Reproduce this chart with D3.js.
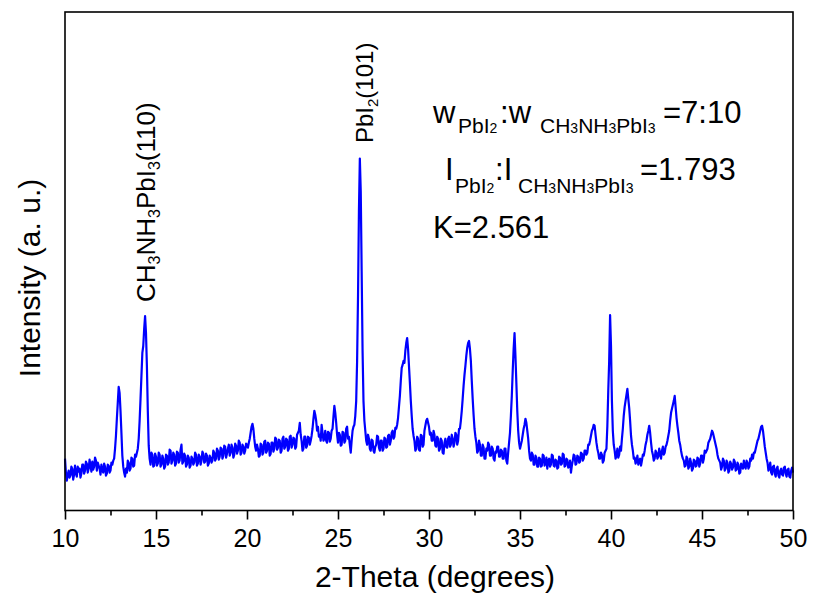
<!DOCTYPE html>
<html>
<head>
<meta charset="utf-8">
<script src="https://cdn.jsdelivr.net/npm/d3@7"></script>
<style>
  html, body { margin: 0; padding: 0; background: #fff; }
  svg { display: block; font-family: Arial, "Liberation Sans", sans-serif; }
</style>
</head>
<body>
<svg id="chart" width="813" height="597"></svg>
<script>
// XRD pattern, 2-theta scan from 10 to 50 degrees in 0.05 degree steps (one row per degree)
const scanStart = 10;
const scanStep = 0.05;
const intensity = [
  52, 38, 30, 36, 40, 33, 35, 44, 42, 31, 36, 45, 37, 34, 44, 39, 42, 33, 37, 46,
  46, 37, 40, 49, 47, 38, 42, 51, 45, 39, 49, 41, 44, 53, 50, 40, 48, 45, 42, 36,
  46, 40, 38, 47, 44, 35, 37, 46, 45, 38, 40, 48, 46, 50, 52, 62, 75, 92, 108, 124,
  118, 100, 78, 55, 44, 38, 34, 42, 38, 50, 48, 40, 42, 53, 52, 44, 45, 56, 54, 58,
  62, 72, 90, 112, 135, 158, 165, 182, 195, 178, 145, 100, 65, 52, 46, 58, 56, 44, 45, 57,
  54, 45, 47, 58, 56, 44, 46, 55, 52, 42, 44, 56, 55, 46, 48, 61, 60, 47, 50, 58,
  56, 45, 47, 59, 58, 48, 50, 61, 66, 47, 49, 57, 55, 44, 46, 55, 53, 43, 45, 54,
  52, 46, 48, 58, 56, 45, 47, 56, 54, 46, 50, 59, 57, 48, 49, 57, 55, 45, 47, 55,
  53, 48, 50, 60, 58, 50, 52, 62, 60, 51, 54, 63, 62, 52, 55, 65, 64, 53, 57, 62,
  66, 55, 58, 66, 63, 53, 56, 67, 65, 57, 60, 70, 68, 56, 58, 66, 64, 57, 60, 67,
  66, 63, 68, 72, 78, 84, 87, 82, 72, 64, 60, 66, 62, 54, 55, 67, 66, 56, 58, 69,
  70, 58, 60, 68, 67, 55, 57, 68, 68, 59, 62, 73, 72, 61, 63, 71, 70, 58, 60, 72,
  74, 62, 64, 72, 71, 60, 62, 74, 75, 63, 66, 73, 72, 62, 64, 76, 78, 80, 88, 76,
  70, 60, 62, 74, 74, 63, 65, 74, 73, 66, 70, 75, 82, 92, 100, 96, 90, 80, 84, 74,
  76, 70, 86, 78, 70, 72, 80, 70, 68, 79, 78, 69, 72, 80, 82, 94, 105, 98, 88, 76,
  68, 78, 76, 65, 66, 79, 78, 68, 70, 82, 84, 72, 74, 66, 58, 70, 80, 84, 86, 95,
  110, 150, 215, 300, 353, 320, 240, 160, 110, 90, 80, 70, 66, 76, 72, 62, 60, 71, 70, 60,
  58, 64, 66, 75, 74, 63, 60, 70, 70, 60, 62, 73, 72, 63, 64, 75, 76, 66, 70, 78,
  80, 72, 74, 83, 82, 86, 93, 104, 115, 130, 143, 146, 150, 148, 160, 168, 173, 162, 145, 128,
  110, 95, 82, 75, 70, 60, 62, 74, 72, 61, 60, 76, 75, 64, 66, 80, 85, 90, 92, 88,
  84, 76, 78, 70, 70, 80, 76, 65, 64, 74, 72, 60, 62, 72, 70, 58, 57, 68, 72, 64,
  63, 72, 74, 64, 66, 76, 72, 64, 68, 78, 76, 66, 70, 82, 82, 90, 100, 112, 125, 136,
  145, 155, 163, 168, 170, 162, 150, 130, 112, 96, 82, 74, 68, 58, 60, 70, 66, 55, 55, 66,
  63, 52, 52, 62, 60, 68, 66, 55, 55, 64, 62, 52, 50, 59, 58, 64, 64, 54, 54, 61,
  60, 52, 52, 62, 62, 50, 47, 58, 68, 78, 95, 115, 140, 162, 178, 155, 128, 100, 80, 68,
  62, 66, 70, 76, 82, 86, 92, 88, 80, 72, 60, 52, 50, 58, 56, 46, 46, 55, 53, 44,
  44, 53, 52, 44, 45, 56, 55, 45, 47, 53, 42, 50, 52, 44, 46, 56, 55, 45, 44, 51,
  50, 42, 43, 54, 53, 46, 47, 57, 56, 44, 45, 52, 51, 43, 44, 50, 38, 45, 50, 56,
  55, 46, 47, 55, 54, 48, 49, 58, 57, 50, 52, 60, 60, 56, 58, 66, 66, 70, 75, 80,
  82, 86, 85, 76, 68, 62, 58, 52, 52, 58, 56, 48, 50, 58, 60, 62, 85, 120, 150, 196,
  165, 110, 80, 66, 60, 52, 55, 62, 53, 56, 64, 60, 72, 82, 95, 104, 110, 116, 122, 112,
  103, 90, 75, 66, 60, 52, 53, 47, 49, 55, 46, 50, 52, 45, 50, 56, 55, 60, 66, 70,
  76, 80, 85, 78, 68, 60, 56, 50, 52, 60, 58, 52, 54, 62, 57, 52, 60, 64, 56, 58,
  64, 66, 70, 75, 80, 90, 98, 102, 106, 110, 115, 104, 93, 85, 78, 70, 66, 60, 55, 52,
  50, 44, 45, 54, 52, 42, 44, 52, 48, 40, 42, 51, 50, 44, 45, 53, 52, 44, 47, 55,
  55, 48, 52, 60, 58, 60, 62, 68, 70, 72, 76, 80, 78, 74, 70, 66, 62, 56, 52, 50,
  48, 41, 44, 52, 50, 40, 42, 50, 48, 38, 40, 49, 47, 41, 43, 51, 49, 40, 41, 48,
  46, 37, 38, 47, 45, 42, 50, 44, 42, 50, 48, 42, 44, 52, 50, 56, 52, 58, 58, 62,
  66, 70, 72, 76, 80, 84, 85, 80, 72, 64, 58, 52, 48, 40, 42, 48, 38, 36, 44, 45,
  37, 34, 42, 44, 35, 33, 40, 42, 36, 35, 43, 44, 37, 34, 41, 42, 34, 33, 40, 43,
  38
];
const majorTicks = [10, 15, 20, 25, 30, 35, 40, 45, 50];
const minorTicks = [12.5, 17.5, 22.5, 27.5, 32.5, 37.5, 42.5, 47.5];
const xDomain = [10, 50];
const yDomain = [0, 500];

const points = intensity.map((v, i) => ({ angle: scanStart + i * scanStep, value: v }));

const svg = d3.select("#chart");
const plot = { left: 65, right: 793, top: 12, bottom: 510.5 };

const x = d3.scaleLinear().domain(xDomain).range([plot.left, plot.right]);
const y = d3.scaleLinear().domain(yDomain).range([plot.bottom, plot.top]);

// diffraction trace
const line = d3.line().x(d => x(d.angle)).y(d => y(d.value));
svg.append("path")
  .datum(points)
  .attr("d", line)
  .attr("fill", "none")
  .attr("stroke", "#0000ff")
  .attr("stroke-width", 2.2)
  .attr("stroke-linejoin", "round");

// frame
svg.append("rect")
  .attr("x", plot.left).attr("y", plot.top)
  .attr("width", plot.right - plot.left).attr("height", plot.bottom - plot.top)
  .attr("fill", "none").attr("stroke", "#000").attr("stroke-width", 1.6);

// bottom axis: major ticks with labels, minor ticks without
const major = svg.append("g")
  .attr("transform", `translate(0,${plot.bottom})`)
  .call(d3.axisBottom(x).tickValues(majorTicks).tickSize(9).tickPadding(9.5).tickFormat(d3.format("d")));
major.select(".domain").remove();
major.selectAll("line").attr("stroke", "#000").attr("stroke-width", 1.6);
major.selectAll("text").attr("font-size", 25).attr("fill", "#000")
  .attr("font-family", "Arial, 'Liberation Sans', sans-serif");

const minor = svg.append("g")
  .attr("transform", `translate(0,${plot.bottom})`)
  .call(d3.axisBottom(x).tickValues(minorTicks).tickSize(5).tickFormat(""));
minor.select(".domain").remove();
minor.selectAll("line").attr("stroke", "#000").attr("stroke-width", 1.6);

// axis titles
svg.append("text")
  .attr("x", 435).attr("y", 587)
  .attr("text-anchor", "middle")
  .attr("font-size", 30)
  .text("2-Theta (degrees)");

svg.append("text")
  .attr("transform", "translate(40,278) rotate(-90)")
  .attr("text-anchor", "middle")
  .attr("font-size", 30)
  .text("Intensity (a. u.)");

// helper: text made of runs with their own size and baseline shift
function runs(sel, parts) {
  parts.forEach(p => {
    const t = sel.append("tspan").attr("font-size", p.size).text(p.t);
    if (p.x !== undefined) t.attr("x", p.x);
    if (p.y !== undefined) t.attr("y", p.y);
    if (p.dy !== undefined) t.attr("dy", p.dy);
  });
}

// peak labels (vertical)
const peak1 = svg.append("text").attr("transform", "translate(155,302) rotate(-90)");
runs(peak1, [
  { t: "CH", size: 26 }, { t: "3", size: 16, dy: 5 },
  { t: "NH", size: 26, dy: -5 }, { t: "3", size: 16, dy: 5 },
  { t: "PbI", size: 26, dy: -5 }, { t: "3", size: 16, dy: 5 },
  { t: "(110)", size: 26, dy: -5 }
]);

const peak2 = svg.append("text").attr("transform", "translate(373,143) rotate(-90)");
runs(peak2, [
  { t: "PbI", size: 24 }, { t: "2", size: 15, dy: 5 },
  { t: "(101)", size: 24, dy: -5 }
]);

// ratio annotations
const big = 31, sub = 21, sub2 = 14;
const l1 = svg.append("text");
runs(l1, [
  { t: "w", size: big, x: 433, y: 123 },
  { t: "PbI", size: sub, x: 458, y: 133 }, { t: "2", size: sub2, y: 133 },
  { t: ":", size: big, x: 500, y: 123 }, { t: "w", size: big, y: 123 },
  { t: "CH", size: sub, x: 540, y: 133 }, { t: "3", size: sub2, y: 133 },
  { t: "NH", size: sub, y: 133 }, { t: "3", size: sub2, y: 133 },
  { t: "PbI", size: sub, y: 133 }, { t: "3", size: sub2, y: 133 },
  { t: "=7:10", size: big, x: 663, y: 123 }
]);

const l2 = svg.append("text");
runs(l2, [
  { t: "I", size: big, x: 445, y: 180 },
  { t: "PbI", size: sub, x: 455, y: 193 }, { t: "2", size: sub2, y: 193 },
  { t: ":", size: big, x: 495, y: 180 }, { t: "I", size: big, y: 180 },
  { t: "CH", size: sub, x: 518, y: 193 }, { t: "3", size: sub2, y: 193 },
  { t: "NH", size: sub, y: 193 }, { t: "3", size: sub2, y: 193 },
  { t: "PbI", size: sub, y: 193 }, { t: "3", size: sub2, y: 193 },
  { t: "=1.793", size: big, x: 640, y: 180 }
]);

svg.append("text")
  .attr("x", 433).attr("y", 238)
  .attr("font-size", big)
  .text("K=2.561");
</script>
</body>
</html>
